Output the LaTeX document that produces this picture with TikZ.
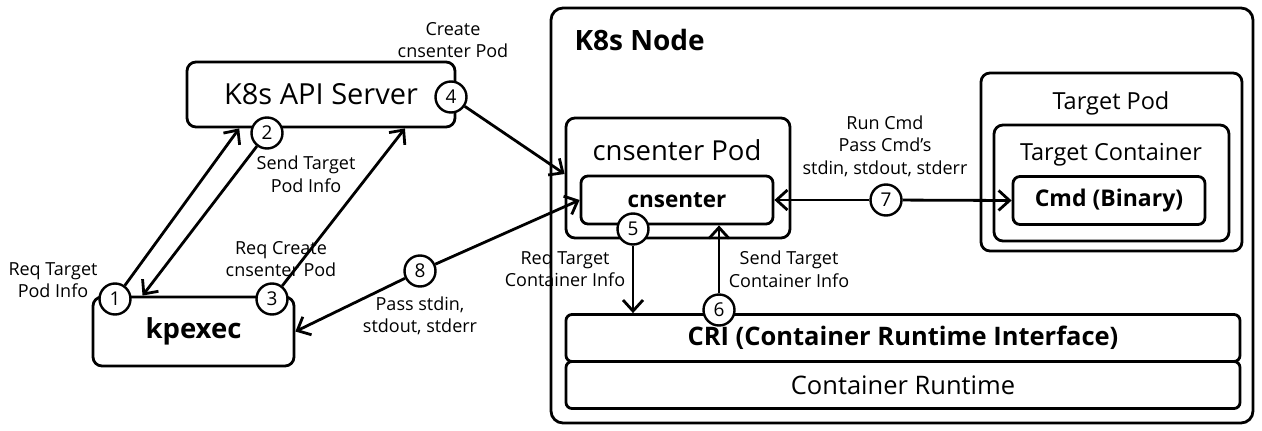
\documentclass[tikz,border=0pt]{standalone}
\usepackage{fontspec}
\setmainfont{Open Sans}
\usetikzlibrary{arrows.meta,positioning,calc}

\tikzset{
  box/.style={draw, line width=2.8pt, rounded corners=9pt, inner sep=0pt, align=center},
  num/.style={draw, circle, line width=2.4pt, fill=white, minimum size=31pt, inner sep=0pt,
    font=\fontsize{19}{19}\selectfont},
  lbl/.style={align=center, inner sep=0pt, font=\fontsize{18}{22.5}\selectfont},
  arr/.style={line width=2.8pt, -{Straight Barb[length=11pt,width=20pt]}},
}

\begin{document}
\begin{tikzpicture}[x=1pt,y=-1pt]
    \useasboundingbox (0,0) rectangle (1262,431);

    % left side
    \node[box, minimum width=268pt, minimum height=65pt, font=\fontsize{29}{29}\selectfont] (api) at (321,94.5) {K8s API Server};
    \node[box, minimum width=201pt, minimum height=69pt, font=\fontsize{27.5}{27.5}\selectfont\bfseries] (kpexec) at (193.5,331.5) {kpexec};

    % k8s node
    \node[box, minimum width=702pt, minimum height=415pt, rounded corners=12pt] (k8snode) at (902,215.5) {};
    \node[anchor=west, font=\fontsize{28}{28}\selectfont\bfseries] (k8snodetitle) at (571,40) {K8s Node};

    \node[box, minimum width=224pt, minimum height=120pt] (cnpod) at (678,178) {};
    \node[font=\fontsize{27.5}{27.5}\selectfont] (cnpodtitle) at (677,150) {cnsenter Pod};
    \node[box, minimum width=192pt, minimum height=48pt, rounded corners=7pt, font=\fontsize{22.5}{22.5}\selectfont\bfseries] (cnsenter) at (677,200) {cnsenter};

    \node[box, minimum width=261pt, minimum height=178pt] (tpod) at (1111.5,162) {};
    \node[font=\fontsize{23.5}{23.5}\selectfont] (tpodtitle) at (1111,103) {Target Pod};
    \node[box, minimum width=235pt, minimum height=116pt] (tcont) at (1111.5,183) {};
    \node[font=\fontsize{23.5}{23.5}\selectfont] (tconttitle) at (1111,155) {Target Container};
    \node[box, minimum width=192pt, minimum height=48pt, rounded corners=7pt, font=\fontsize{23}{23}\selectfont\bfseries] (cmd) at (1109,200.5) {Cmd (Binary)};

    \node[box, minimum width=674pt, minimum height=47pt, rounded corners=6pt, font=\fontsize{25.5}{25.5}\selectfont\bfseries] (cri) at (903,338) {CRI (Container Runtime Interface)};
    \node[box, minimum width=674pt, minimum height=47pt, rounded corners=6pt, font=\fontsize{25.5}{25.5}\selectfont] (runtime) at (903,385) {Container Runtime};

    % step circles
    \node[num] (c1) at (115,299) {1};
    \node[num] (c2) at (267,133) {2};
    \node[num] (c3) at (272,299) {3};
    \node[num] (c4) at (451,97) {4};
    \node[num] (c5) at (633,229) {5};
    \node[num] (c6) at (719,310) {6};
    \node[num] (c7) at (886,200) {7};
    \node[num] (c8) at (420,271) {8};

    % arrows
    \draw[arr] (c1) -- ($(api.south west)!0.198!(api.south east)$);
    \draw[arr] (c2) -- ($(kpexec.north west)!0.25!(kpexec.north east)$);
    \draw[arr] (c3) -- ($(api.south west)!0.81!(api.south east)$);
    \draw[arr] (c4) -- ($(cnpod.west)+(0,-4)$);
    \draw[arr] (c8) -- (cnsenter.west);
    \draw[arr] (c8) -- (kpexec.east);
    \draw[arr] (c5) -- (cri.north -| c5);
    \draw[arr] (c6) -- (cnsenter.south -| c6);
    \draw[arr] (c7) -- (cnsenter.east);
    \draw[arr] (c7) -- (cmd.west);

    % labels
    \node[lbl] (lcreate) at (453,40) {Create\\cnsenter Pod};
    \node[lbl] (lsendpod) at (306,174) {Send Target\\Pod Info};
    \node[lbl] (lreqcreate) at (281,259) {Req Create\\cnsenter Pod};
    \node[lbl] (lreqpod) at (53,280) {Req Target\\Pod Info};
    \node[lbl] (lpass) at (420,316) {Pass stdin,\\stdout, stderr};
    \node[lbl] (lrun) at (885,146) {Run Cmd\\Pass Cmd’s\\stdin, stdout, stderr};
    \node[lbl] (lreqcont) at (565,269) {Req Target\\Container Info};
    \node[lbl] (lsendcont) at (789,269) {Send Target\\Container Info};
\end{tikzpicture}
\end{document}
